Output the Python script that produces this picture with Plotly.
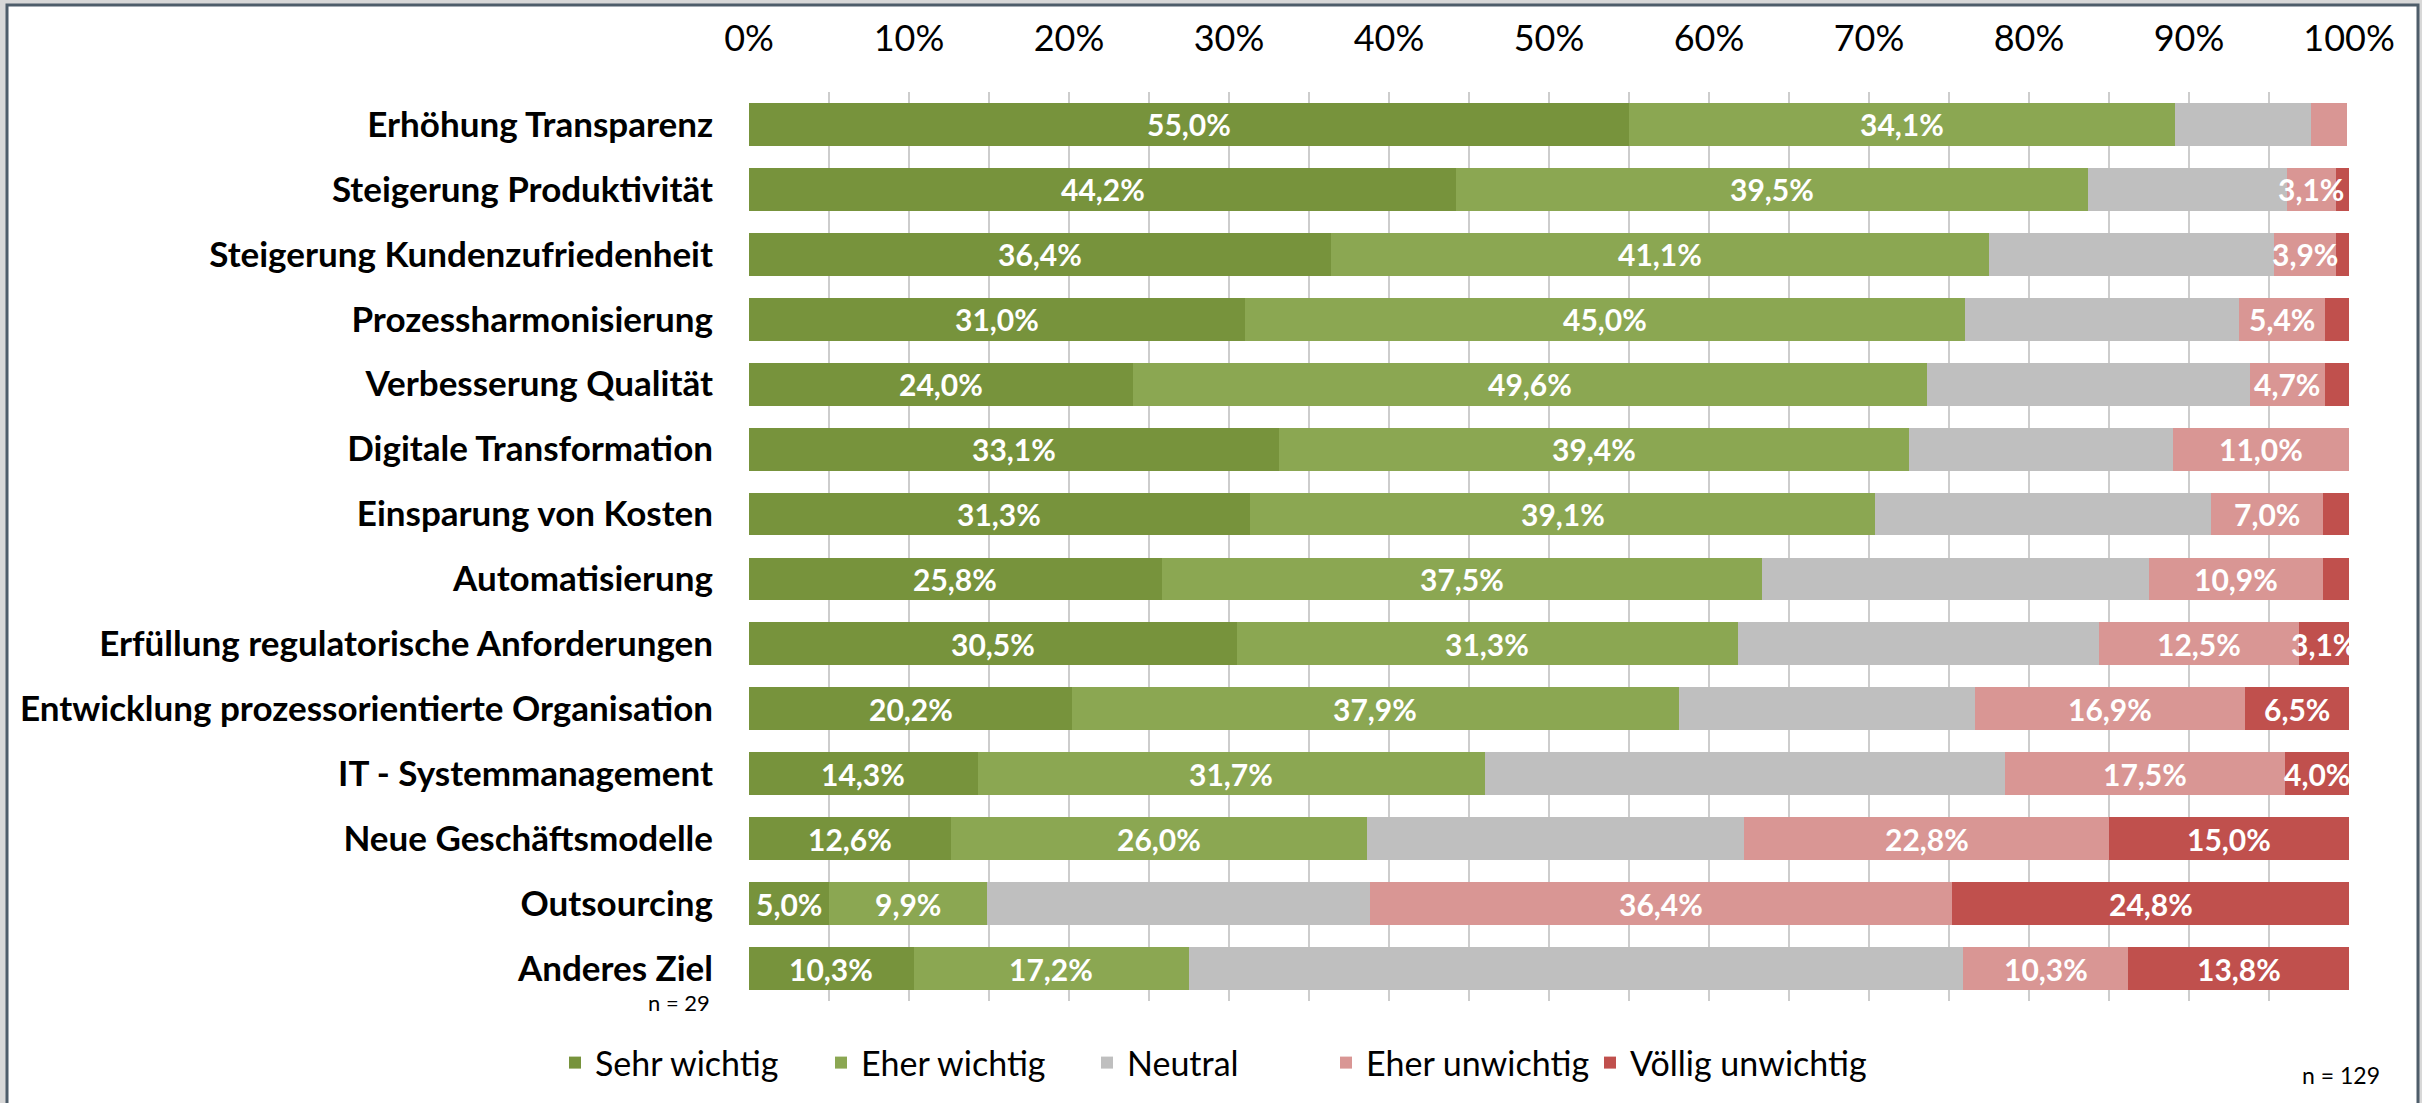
import plotly.graph_objects as go

categories = [
    "Erhöhung Transparenz",
    "Steigerung Produktivität",
    "Steigerung Kundenzufriedenheit",
    "Prozessharmonisierung",
    "Verbesserung Qualität",
    "Digitale Transformation",
    "Einsparung von Kosten",
    "Automatisierung",
    "Erfüllung regulatorische Anforderungen",
    "Entwicklung prozessorientierte Organisation",
    "IT - Systemmanagement",
    "Neue Geschäftsmodelle",
    "Outsourcing",
    "Anderes Ziel",
]

sehr_wichtig = [55.0, 44.2, 36.4, 31.0, 24.0, 33.1, 31.3, 25.8, 30.5, 20.2, 14.3, 12.6, 5.0, 10.3]
eher_wichtig = [34.1, 39.5, 41.1, 45.0, 49.6, 39.4, 39.1, 37.5, 31.3, 37.9, 31.7, 26.0, 9.9, 17.2]
neutral = [8.5, 12.4, 17.8, 17.1, 20.2, 16.5, 21.0, 24.2, 22.6, 18.5, 32.5, 23.6, 23.9, 48.4]
eher_unwichtig = [2.3, 3.1, 3.9, 5.4, 4.7, 11.0, 7.0, 10.9, 12.5, 16.9, 17.5, 22.8, 36.4, 10.3]
voellig_unwichtig = [0.0, 0.8, 0.8, 1.6, 1.6, 0.0, 1.6, 1.6, 3.1, 6.5, 4.0, 15.0, 24.8, 13.8]

series_names = ["Sehr wichtig", "Eher wichtig", "Neutral", "Eher unwichtig", "Völlig unwichtig"]
series_values = [sehr_wichtig, eher_wichtig, neutral, eher_unwichtig, voellig_unwichtig]
series_colors = ["#77933C", "#8BA752", "#BFBFBF", "#D99694", "#C0504D"]
series_labeled = [True, True, False, True, True]
legend_widths = [221, 221, 194, 219, 300]

tick_values = [0, 10, 20, 30, 40, 50, 60, 70, 80, 90, 100]
tick_labels = ["0%", "10%", "20%", "30%", "40%", "50%", "60%", "70%", "80%", "90%", "100%"]

n_total_label = "n = 129"
n_other_label = "n = 29"

FONT = "Lato"

# plot area geometry (pixels)
W, H = 2422, 1103
PL, PR, PT, PB = 749, 2349, 92, 1002

fig = go.Figure()
for name, vals, col, lw in zip(series_names, series_values, series_colors, legend_widths):
    fig.add_trace(go.Bar(
        y=categories, x=vals, name=name, orientation="h",
        marker=dict(color=col, line=dict(width=0)),
        legendwidth=lw, hoverinfo="x+y+name",
    ))

annotations = []
cum = [0.0] * len(categories)
for vals, labeled in zip(series_values, series_labeled):
    for i, v in enumerate(vals):
        if labeled and v >= 3.0:
            annotations.append(dict(
                x=cum[i] + v / 2, y=categories[i], xref="x", yref="y",
                text=f"{v:.1f}%".replace(".", ","), showarrow=False,
                font=dict(family=FONT, size=30, color="white", weight="bold"),
            ))
        cum[i] += v

def px_x(p):
    return (p - PL) / (PR - PL)

def px_y(p):
    return (PB - p) / (PB - PT)

annotations.append(dict(
    x=px_x(712), y=px_y(1004), xref="paper", yref="paper", xanchor="right", yanchor="middle",
    text=n_other_label, showarrow=False, font=dict(family=FONT, size=22, color="black"),
))
annotations.append(dict(
    x=px_x(2382), y=px_y(1076), xref="paper", yref="paper", xanchor="right", yanchor="middle",
    text=n_total_label, showarrow=False, font=dict(family=FONT, size=23, color="black"),
))

shapes = [dict(
    type="rect", xref="paper", yref="paper", layer="below",
    x0=px_x(7), x1=px_x(2418), y0=px_y(5), y1=px_y(1120),
    fillcolor="white", line=dict(color="#4E5D6A", width=3),
)]

fig.update_layout(
    width=W, height=H,
    margin=dict(l=PL, r=W - PR, t=PT, b=H - PB, pad=0),
    barmode="stack", bargap=0.34,
    paper_bgcolor="#D8D8D8", plot_bgcolor="rgba(0,0,0,0)",
    font=dict(family=FONT, color="black"),
    xaxis=dict(
        side="top", range=[0, 100], tickvals=tick_values, ticktext=tick_labels,
        showgrid=True, gridcolor="#CDCDCD", gridwidth=2, zeroline=False,
        minor=dict(dtick=5, tick0=0, showgrid=True, gridcolor="#CDCDCD", gridwidth=2),
        ticks="", ticklabelstandoff=33, tickfont=dict(family=FONT, size=36, color="black"),
        fixedrange=True,
    ),
    yaxis=dict(
        autorange="reversed", showgrid=False, zeroline=False, ticks="",
        ticklabelstandoff=35, tickfont=dict(family=FONT, size=35, color="black", weight="bold"),
        fixedrange=True,
    ),
    legend=dict(
        orientation="h", x=px_x(555), xanchor="left", y=px_y(1063), yanchor="middle",
        font=dict(family=FONT, size=34, color="black"), bgcolor="rgba(0,0,0,0)",
        traceorder="normal",
    ),
    annotations=annotations,
    shapes=shapes,
    showlegend=True,
)

fig.write_html(
    "out.html",
    config={"displayModeBar": False},
    post_script="document.body.style.margin='0';document.body.style.overflow='hidden';",
)
